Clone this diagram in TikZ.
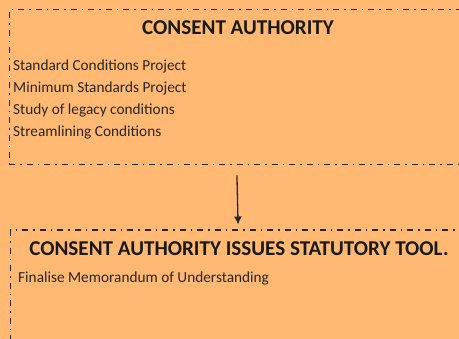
\documentclass[tikz,border=0pt]{standalone}
\usepackage{fontspec}
\setmainfont{Carlito}
\usetikzlibrary{arrows.meta}
\begin{document}
\begin{tikzpicture}[x=1pt,y=-1pt,
  dashdot/.style={draw=black!85, line width=1.4pt, dash pattern=on 6pt off 5pt on 1.5pt off 5pt},
  boxstyle/.style={dashdot, rectangle, inner sep=0pt, anchor=north west},
  titletext/.style={font=\bfseries\fontsize{21.1}{25}\selectfont, text=black!90, inner sep=0pt, anchor=base},
  itemtext/.style={font=\fontsize{15.3}{18}\selectfont, text=black!85, inner sep=0pt, anchor=base west},
  arrowstyle/.style={draw=black!85, line width=1.3pt, -{Latex[length=8pt,width=8pt]}}
]
\fill[fill={rgb,255:red,255;green,185;blue,115}] (0,0) rectangle (459,339);
\useasboundingbox (0,0) rectangle (459,339);
\node[boxstyle, minimum width=455pt, minimum height=155pt] (box1) at (8.5,9) {};
\node[boxstyle, minimum width=455pt, minimum height=140pt] (box2) at (10,229.5) {};
\node[titletext] (t1) at (238,35) {CONSENT AUTHORITY};
\node[itemtext] (i1) at (13,70.5) {Standard Conditions Project};
\node[itemtext] (i2) at (13,92.5) {Minimum Standards Project};
\node[itemtext] (i3) at (13,114.5) {Study of legacy conditions};
\node[itemtext] (i4) at (13,136.5) {Streamlining Conditions};
\node[titletext] (t2) at (239,256) {CONSENT AUTHORITY ISSUES STATUTORY TOOL.};
\node[itemtext] (i5) at (18,283) {Finalise Memorandum of Understanding};
\draw[arrowstyle, shorten <=10pt, shorten >=5pt] (box1.south) -- (box2.north);
\end{tikzpicture}
\end{document}
